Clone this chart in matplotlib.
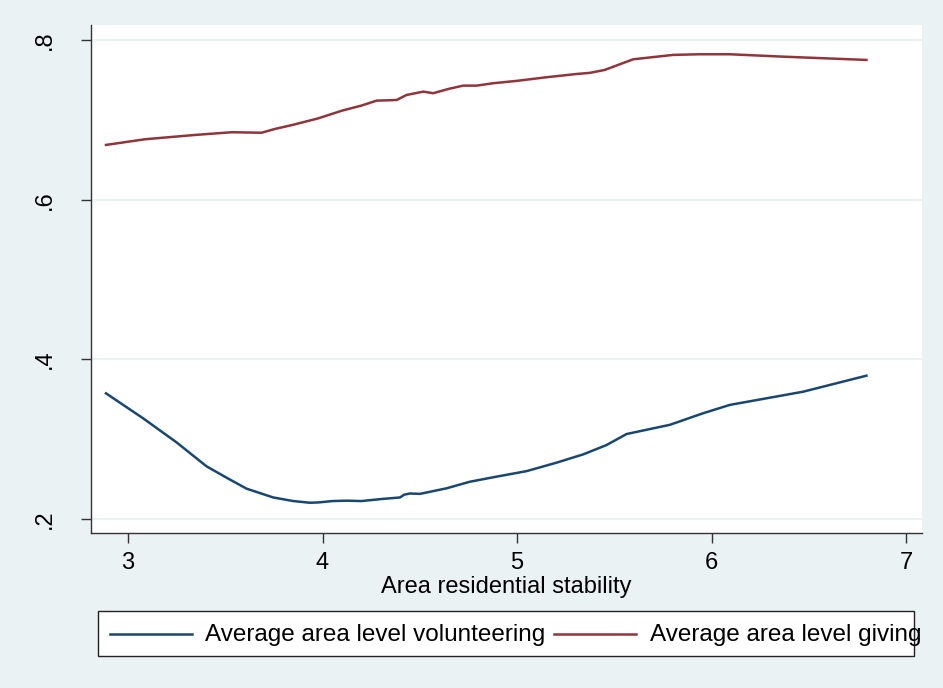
import numpy as np
import matplotlib.pyplot as plt
from matplotlib.patches import Rectangle
from matplotlib.lines import Line2D

plt.rcParams["font.family"] = ["Liberation Sans", "DejaVu Sans"]

# lowess-smoothed averages
stab_vol = [2.887, 3.079, 3.25, 3.404, 3.52, 3.61, 3.747, 3.85, 3.935, 3.98, 4.05, 4.124,
            4.2, 4.3, 4.398, 4.42, 4.449, 4.5, 4.55, 4.638, 4.757, 4.877, 5.049,
            5.203, 5.34, 5.46, 5.563, 5.785, 5.956, 6.094, 6.47, 6.796]
volunteering = [0.3575, 0.326, 0.296, 0.266, 0.250, 0.238, 0.227, 0.2225, 0.2204, 0.2208,
                0.2225, 0.223, 0.2225, 0.225, 0.227, 0.2305, 0.232, 0.2315, 0.234, 0.2385,
                0.2467, 0.2523, 0.260, 0.2706, 0.281, 0.2927, 0.3065, 0.318, 0.3325,
                0.343, 0.3595, 0.3796]

stab_giv = [2.887, 3.087, 3.344, 3.533, 3.687, 3.755, 3.85, 3.978, 4.098, 4.2, 4.278,
            4.381, 4.432, 4.518, 4.569, 4.65, 4.723, 4.792, 4.877, 5.0, 5.151, 5.306,
            5.374, 5.451, 5.597, 5.802, 5.939, 6.094, 6.368, 6.796]
giving = [0.6687, 0.6758, 0.6812, 0.6846, 0.684, 0.6887, 0.694, 0.702, 0.7115, 0.718,
          0.7242, 0.725, 0.7313, 0.7355, 0.7335, 0.739, 0.743, 0.743, 0.746, 0.749,
          0.7535, 0.7576, 0.759, 0.7627, 0.776, 0.7815, 0.7823, 0.7823, 0.7793, 0.7752]

x_ticks = [3, 4, 5, 6, 7]
y_ticks = [0.2, 0.4, 0.6, 0.8]
y_labels = [".2", ".4", ".6", ".8"]

labels = ["Average area level volunteering", "Average area level giving"]
colors = ["#1a476f", "#90353b"]
bg = "#eaf2f3"

fig = plt.figure(figsize=(9.43, 6.88), dpi=100, facecolor=bg)
ax = fig.add_axes([0.0965, 0.2253, 0.8809, 0.7384])
ax.set_facecolor("white")

ax.plot(stab_vol, volunteering, color=colors[0], lw=1.8, zorder=3)
ax.plot(stab_giv, giving, color=colors[1], lw=1.8, zorder=3)

ax.set_xlim(2.81, 7.08)
ax.set_ylim(0.1825, 0.819)
ax.set_xticks(x_ticks)
ax.set_yticks(y_ticks)
ax.set_yticklabels(y_labels, rotation=90, va="center")
ax.tick_params(axis="both", labelsize=17, length=7, width=1, color="#333333")
ax.tick_params(axis="x", pad=7)
ax.tick_params(axis="y", pad=18)
ax.grid(axis="y", color=bg, lw=1.5, zorder=0)
ax.set_axisbelow(True)

for s in ["top", "right"]:
    ax.spines[s].set_visible(False)
for s in ["left", "bottom"]:
    ax.spines[s].set_color("#333333")
    ax.spines[s].set_linewidth(1)

ax.set_xlabel("Area residential stability", fontsize=17, labelpad=1)

# legend drawn in figure pixels, box narrower than the text like the reference
W, H = 943, 688
fig.patches.append(Rectangle((98 / W, (H - 656) / H), 816 / W, 45 / H,
                             transform=fig.transFigure, facecolor="white",
                             edgecolor="#222222", lw=1))
yl = (H - 633.5) / H
for (x0, x1, xt), lab, c in zip([(110, 192, 205), (554, 636, 650)], labels, colors):
    fig.lines.append(Line2D([x0 / W, x1 / W], [yl, yl], transform=fig.transFigure,
                            color=c, lw=1.8))
    fig.text(xt / W, yl - 2 / H, lab, fontsize=17.5, va="center", ha="left")

fig.savefig("out.png", dpi=100, facecolor=bg)
